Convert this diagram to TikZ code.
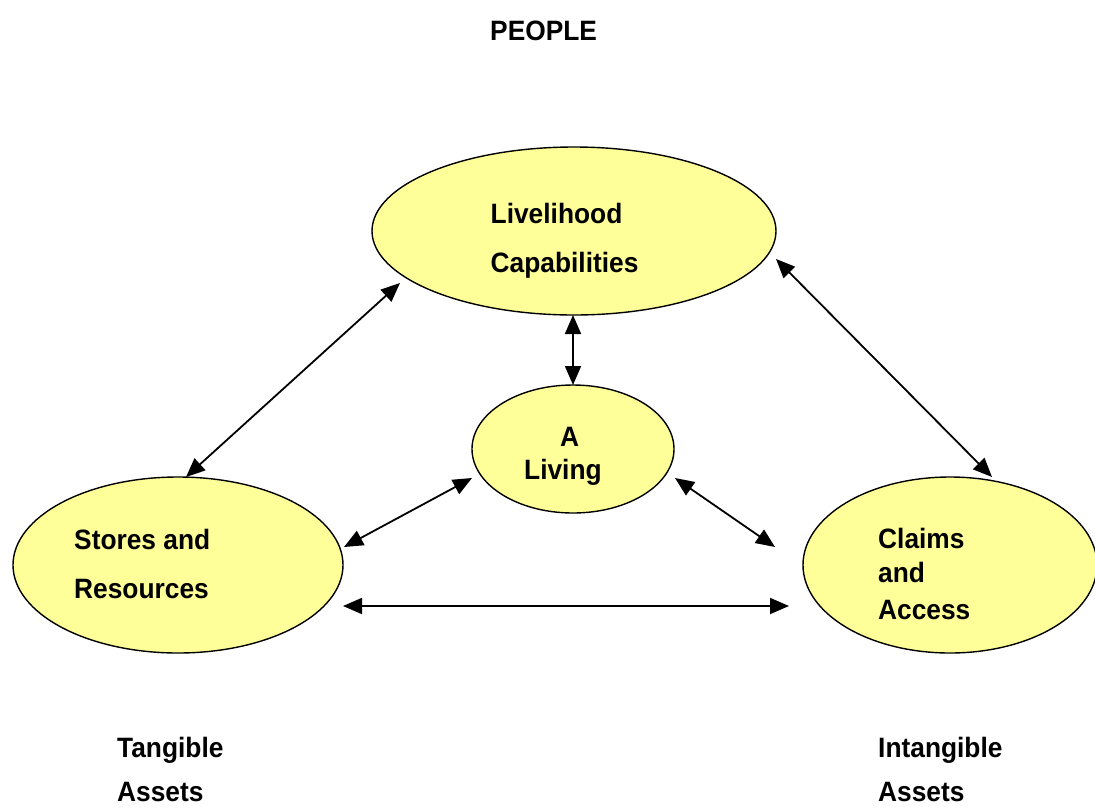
\documentclass[tikz,border=0pt]{standalone}
\usepackage{fontspec}
\setmainfont{Liberation Sans}[FakeStretch=0.94]
\usetikzlibrary{arrows.meta,shapes.geometric}
\definecolor{ellfill}{HTML}{FFFF99}
\tikzset{
  oval/.style={ellipse, draw=black, line width=1.4pt, fill=ellfill, inner sep=0pt},
  lbl/.style={anchor=base west, inner sep=0pt, font=\fontsize{28}{28}\selectfont\bfseries},
  link/.style={line width=1.8pt, {Triangle[length=19pt,width=16pt]}-{Triangle[length=19pt,width=16pt]}}
}
\begin{document}
\begin{tikzpicture}[x=1pt,y=-1pt]
\useasboundingbox (0,0) rectangle (1095,807);
% ellipses
\node[oval, minimum width=404pt, minimum height=168pt] (LC) at (574,231) {};
\node[oval, minimum width=202pt, minimum height=128pt] (AL) at (573,449) {};
\node[oval, minimum width=330pt, minimum height=176pt] (SR) at (178,565) {};
\node[oval, minimum width=294pt, minimum height=176pt] (CA) at (950,565) {};
% labels
\node[lbl] (people) at (490,40) {PEOPLE};
\node[lbl] (lc1) at (490.5,223) {Livelihood};
\node[lbl] (lc2) at (490.5,272) {Capabilities};
\node[lbl] (al1) at (560,446) {A};
\node[lbl] (al2) at (524,479) {Living};
\node[lbl] (sr1) at (74,549) {Stores and};
\node[lbl] (sr2) at (74,598) {Resources};
\node[lbl] (ca1) at (878,548) {Claims};
\node[lbl] (ca2) at (878,582) {and};
\node[lbl] (ca3) at (878,619) {Access};
\node[lbl] (ta1) at (117,757) {Tangible};
\node[lbl] (ta2) at (117,801) {Assets};
\node[lbl] (ia1) at (878,757) {Intangible};
\node[lbl] (ia2) at (878,801) {Assets};
% connector end points
\coordinate (LCsw) at (400,283);
\coordinate (SRn) at (186,477);
\coordinate (LCe) at (776,259);
\coordinate (CAn) at (992,477);
\coordinate (LCs) at (573,315);
\coordinate (ALn) at (573,385);
\coordinate (ALw) at (472,478);
\coordinate (SRe) at (344,547);
\coordinate (ALe) at (675,478);
\coordinate (CAw) at (775,547);
\coordinate (SRe2) at (343,606);
\coordinate (CAw2) at (789,606);
% connectors
\draw[link] (LCsw) -- (SRn);
\draw[link] (LCe) -- (CAn);
\draw[link] (LCs) -- (ALn);
\draw[link] (ALw) -- (SRe);
\draw[link] (ALe) -- (CAw);
\draw[link] (SRe2) -- (CAw2);
\end{tikzpicture}
\end{document}
